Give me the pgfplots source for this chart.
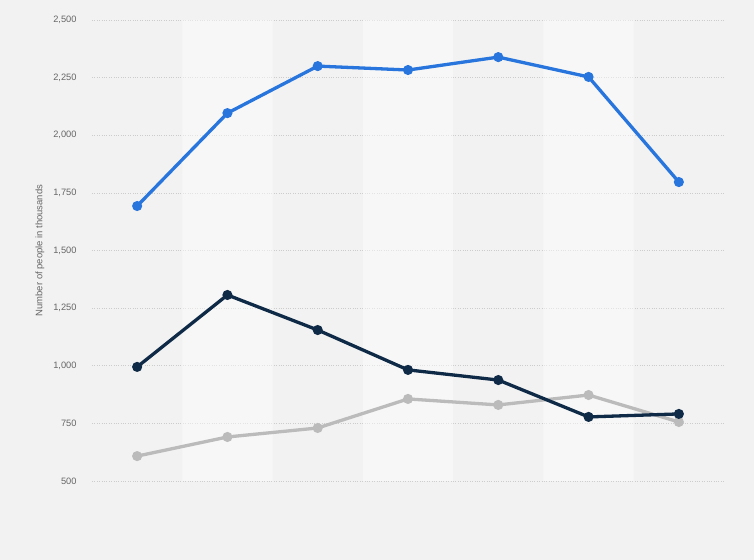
\documentclass[border=0pt]{standalone}
\usepackage{pgfplots}
\pgfplotsset{compat=1.18}
\usepackage{fontspec}
\setmainfont{Liberation Sans}
\definecolor{bgc}{HTML}{F2F2F2}
\definecolor{blueS}{HTML}{2876DD}
\definecolor{navyS}{HTML}{0F2A47}
\definecolor{grayS}{HTML}{BBBBBB}
\definecolor{gridc}{HTML}{CCCCCC}
\definecolor{tickc}{HTML}{666666}
\begin{document}
\begin{tikzpicture}
\fill[bgc] (0,0) rectangle (754bp,560bp);
\begin{axis}[
  at={(92bp,79bp)}, anchor=south west,
  scale only axis, width=632bp, height=461bp,
  xmin=-0.5, xmax=6.5, ymin=500, ymax=2500,
  xtick=\empty,
  ytick={500,750,1000,1250,1500,1750,2000,2250,2500},
  ymajorgrids, major grid style={gridc, dotted, line width=0.6bp},
  axis line style={draw=none}, major tick length=0,
  /pgf/number format/.cd, 1000 sep={,}, assume math mode=true,
  /pgfplots/.cd,
  yticklabel style={font=\fontsize{9.3}{11}\selectfont, text=tickc, anchor=east, xshift=-12bp},
  ylabel={Number of people in thousands},
  every axis y label/.style={at={(rel axis cs:0,0.5)}, xshift=-52bp, rotate=90, anchor=center, font=\fontsize{9.5}{11}\selectfont, text=tickc},
  clip=false,
]
\addplot[ybar, bar width=1, fill=white, fill opacity=0.45, draw=none, bar shift=0pt] coordinates {(1,2500) (3,2500) (5,2500)};
\addplot[grayS, line width=3.3bp, mark=*, mark size=3.3bp] coordinates {(0,608) (1,691) (2,730) (3,856) (4,830) (5,873) (6,756)};
\addplot[navyS, line width=3.3bp, mark=*, mark size=3.3bp] coordinates {(0,995) (1,1307) (2,1155) (3,982) (4,938) (5,778) (6,791)};
\addplot[blueS, line width=3.3bp, mark=*, mark size=3.3bp] coordinates {(0,1693) (1,2096) (2,2300) (3,2283) (4,2339) (5,2253) (6,1797)};
\end{axis}
\end{tikzpicture}
\end{document}
